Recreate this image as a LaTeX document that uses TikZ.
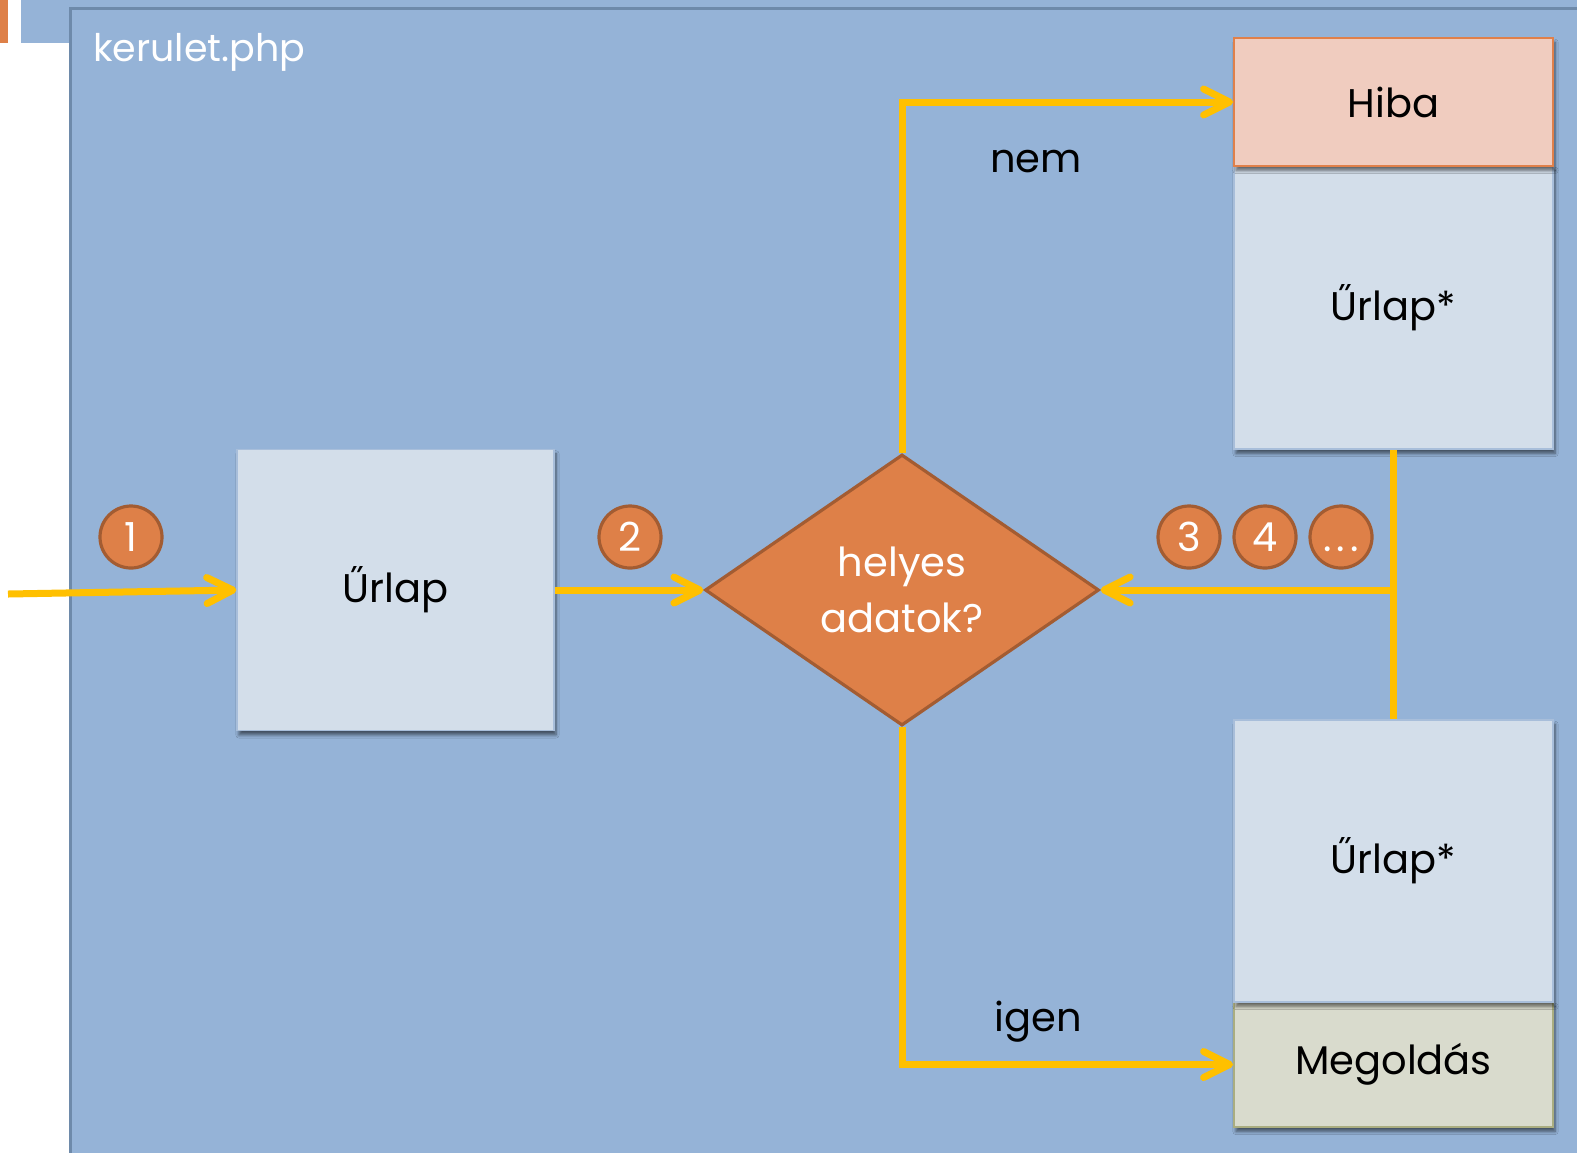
\documentclass[tikz,border=0pt]{standalone}
\usepackage{fontspec}
\setmainfont{Poppins}
\usetikzlibrary{arrows.meta,shapes.geometric,shadows.blur}

\definecolor{bgblue}{RGB}{149,179,215}
\definecolor{frameblue}{RGB}{110,138,170}
\definecolor{boxfill}{RGB}{211,222,234}
\definecolor{boxline}{RGB}{168,190,218}
\definecolor{hibafill}{RGB}{240,204,191}
\definecolor{hibaline}{RGB}{224,128,74}
\definecolor{megfill}{RGB}{217,219,205}
\definecolor{megline}{RGB}{170,173,128}
\definecolor{accent}{RGB}{222,128,72}
\definecolor{accentdark}{RGB}{163,92,50}
\definecolor{flow}{RGB}{255,192,0}

\tikzset{
  txt/.style={font=\fontsize{20}{28}\selectfont},
  boxshadow/.style={blur shadow={shadow xshift=1pt, shadow yshift=-2.2pt,
    shadow blur radius=1.6pt, shadow blur steps=6, shadow opacity=55}},
  formbox/.style={txt, draw=boxline, line width=0.6pt, fill=boxfill, inner sep=0pt, boxshadow},
  errbox/.style={txt, draw=hibaline, line width=0.9pt, fill=hibafill, inner sep=0pt, boxshadow},
  okbox/.style={txt, draw=megline, line width=0.9pt, fill=megfill, inner sep=0pt, boxshadow},
  decision/.style={txt, diamond, draw=accentdark, line width=1.6pt, fill=accent, text=white,
    align=center, inner sep=0pt, minimum width=197pt, minimum height=135.5pt},
  badge/.style={txt, circle, draw=accentdark, line width=1.6pt, fill=accent, text=white,
    minimum size=31pt, inner sep=0pt},
  flowline/.style={draw=flow, line width=3.5pt},
  flowarrow/.style={flowline, -{Straight Barb[length=13pt, width=13pt, round]}},
  label/.style={txt, text=black},
}

\begin{document}
\begin{tikzpicture}[x=0.5pt, y=-0.5pt]
  \useasboundingbox (0,0) rectangle (1577,1152);
  \fill[white] (0,0) rectangle (1577,1152);
  % header strip and accent bar
  \fill[bgblue] (21,0) rectangle (1577,43);
  \fill[accent] (0,0) rectangle (8,43);
  % page frame
  \begin{scope}
    \clip (0,0) rectangle (1577,1152);
    \draw[frameblue, line width=1.5pt, fill=bgblue] (70,8) rectangle (1600,1180);
  \end{scope}
  \node[text=white, anchor=west, font=\fontsize{19}{24}\selectfont] (title) at (86,52) {kerulet.php};

  % boxes
  \node[formbox, minimum width=158.5pt, minimum height=140.5pt] (urlap) at (395.5,590) {Űrlap};
  \node[formbox, minimum width=159.5pt, minimum height=141.5pt] (urlapA) at (1393.5,307.5) {Űrlap*};
  \node[errbox, minimum width=159.5pt, minimum height=64pt] (hiba) at (1393.5,102) {Hiba};
  \node[okbox, minimum width=159.5pt, minimum height=62.5pt] (meg) at (1393.5,1064.5) {Megoldás};
  \node[formbox, minimum width=159.5pt, minimum height=141pt] (urlapB) at (1393.5,861) {Űrlap*};

  % decision
  \node[decision] (dec) at (902,590) {helyes\\adatok?};

  % connectors
  \coordinate (start) at (8,594);
  \coordinate (join) at (1393.5,590);
  \draw[flowarrow] (start) -- (urlap.west);
  \draw[flowarrow] (urlap.east) -- (dec.west);
  \draw[flowarrow] (dec.north) |- (hiba.west);
  \draw[flowarrow] (dec.south) |- (meg.west);
  \draw[flowline] (urlapA.south) -- (urlapB.north);
  \draw[flowarrow] (join) -- (dec.east);

  % branch labels
  \node[label] (nem) at (1036,162) {nem};
  \node[label] (igen) at (1038,1022) {igen};

  % step badges
  \node[badge] (b1) at (131,537) {1};
  \node[badge] (b2) at (630,537) {2};
  \node[badge] (b3) at (1189,537) {3};
  \node[badge] (b4) at (1265,537) {4};
  \node[badge] (b5) at (1341,537) {\vphantom{4}.\hspace{2.6pt}.\hspace{2.6pt}.};
\end{tikzpicture}
\end{document}
